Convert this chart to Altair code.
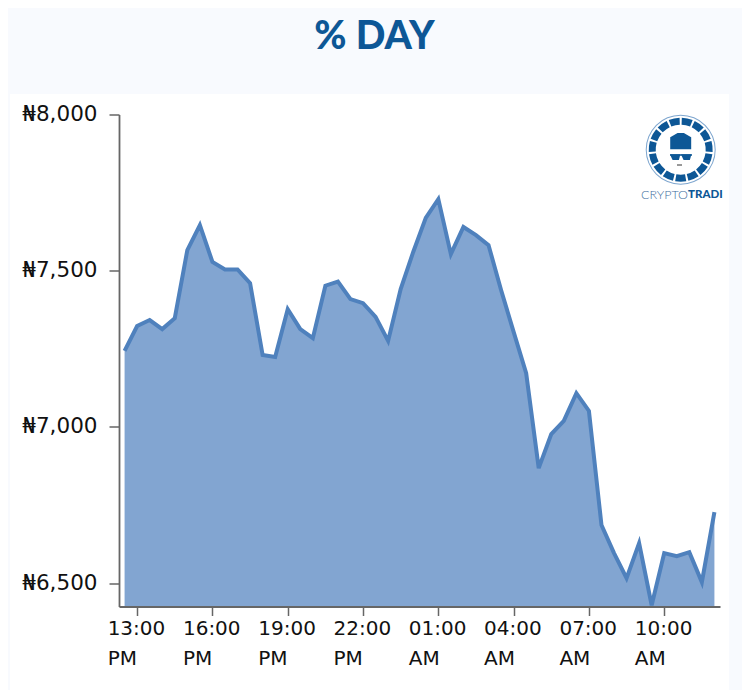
import math
import altair as alt
import pandas as pd

times = ["12:30 PM","13:00 PM","13:30 PM","14:00 PM","14:30 PM","15:00 PM","15:30 PM","16:00 PM",
         "16:30 PM","17:00 PM","17:30 PM","18:00 PM","18:30 PM","19:00 PM","19:30 PM","20:00 PM",
         "20:30 PM","21:00 PM","21:30 PM","22:00 PM","22:30 PM","23:00 PM","23:30 PM","00:00 AM",
         "00:30 AM","01:00 AM","01:30 AM","02:00 AM","02:30 AM","03:00 AM","03:30 AM","04:00 AM",
         "04:30 AM","05:00 AM","05:30 AM","06:00 AM","06:30 AM","07:00 AM","07:30 AM","08:00 AM",
         "08:30 AM","09:00 AM","09:30 AM","10:00 AM","10:30 AM","11:00 AM","11:30 AM","12:00 PM"]
prices = [7243,7323,7342,7313,7348,7566,7646,7528,7504,7504,7460,7230,7224,7377,7313,7284,
          7452,7465,7409,7396,7352,7275,7441,7560,7669,7729,7553,7640,7614,7582,7438,7304,
          7172,6868,6977,7019,7108,7051,6686,6596,6516,6628,6429,6596,6586,6599,6503,6727]
x_ticks = ["13:00 PM","16:00 PM","19:00 PM","22:00 PM","01:00 AM","04:00 AM","07:00 AM","10:00 AM"]
y_ticks = [6500,7000,7500,8000]
title_text = "% DAY"
y_floor = 6425

df = pd.DataFrame({"time": times, "price": prices, "base": [y_floor] * len(times)})

W, H = 601, 492
LEFT, TOP = 119, 114.5
AXIS_FONT = "DejaVu Sans"
DARK = "#0d5796"

def px(v): return v - LEFT
def py(v): return v - TOP
one = alt.Data(values=[{"k": 1}])

panel = alt.Chart(one).mark_rect(color="#ffffff").encode(
    x=alt.value(px(10)), x2=alt.value(px(729)),
    y=alt.value(py(94)), y2=alt.value(py(690)))

x_enc = alt.X("time:N", sort=None, title=None,
    scale=alt.Scale(type="point", domain=times, padding=0.445),
    axis=alt.Axis(values=x_ticks, labelExpr="split(datum.label, ' ')", zindex=1,
        labelAlign="left", labelOffset=-30, labelBaseline="top", labelAngle=0,
        labelPadding=3, labelLineHeight=30, labelFontSize=20, labelFont=AXIS_FONT,
        labelColor="#111111", labelBound=False, labelFlush=False, labelOverlap=False,
        tickSize=9, tickWidth=1.5, tickColor="#666666",
        domainColor="#666666", domainWidth=1.8, grid=False))
y_enc = alt.Y("price:Q", title=None,
    scale=alt.Scale(domain=[y_floor, 8000], zero=False, nice=False),
    axis=alt.Axis(values=y_ticks, labelExpr="'₦' + format(datum.value, ',')", zindex=1,
        labelPadding=12, labelFontSize=21.5, labelFont=AXIS_FONT, labelColor="#111111",
        tickSize=10, tickWidth=1.5, tickColor="#666666",
        domainColor="#666666", domainWidth=1.8, grid=False))

area = alt.Chart(df).mark_area(color="#82a5d1", opacity=1, interpolate="linear").encode(
    x=x_enc, y=y_enc, y2=alt.Y2("base:Q"))
line = alt.Chart(df).mark_line(color="#4f81bd", strokeWidth=4, strokeJoin="miter",
                               interpolate="linear").encode(x=x_enc, y=y_enc)

# logo
CX, CY = 680.7, 149.7
seg_n = 15
gap = 0.035
segs = pd.DataFrame([{"a": 2*math.pi*i/seg_n + gap, "b": 2*math.pi*(i+1)/seg_n - gap} for i in range(seg_n)])
logo_segs = alt.Chart(segs).mark_arc(color=DARK, radius=32, radius2=25).encode(
    x=alt.value(px(CX)), y=alt.value(py(CY)),
    theta=alt.Theta("a:Q", scale=None), theta2=alt.Theta2("b:Q"))
ring = alt.Chart(alt.Data(values=[{"a": 0, "b": 2*math.pi}])).mark_arc(color="#7ea6cf", radius=35, radius2=34).encode(
    x=alt.value(px(CX)), y=alt.value(py(CY)),
    theta=alt.Theta("a:Q", scale=None), theta2=alt.Theta2("b:Q"))
cap = alt.Chart(one).mark_point(filled=True, opacity=1, color=DARK, size=440,
        shape="M-1,0.75 L-1,-0.4 L-0.3,-0.8 L0.3,-0.8 L1,-0.4 L1,0.75 Z").encode(
    x=alt.value(px(CX)), y=alt.value(py(141.5)))
lens = "M-1,-0.6 L1,-0.6 L0.7,0.5 L-0.5,0.5 Z"
lens_l = alt.Chart(one).mark_point(filled=True, opacity=1, color=DARK, size=110, shape=lens).encode(
    x=alt.value(px(CX - 5.5)), y=alt.value(py(157.5)))
lens_r = alt.Chart(one).mark_point(filled=True, opacity=1, color=DARK, size=110, shape=lens).encode(
    x=alt.value(px(CX + 5.5)), y=alt.value(py(157.5)))
bar = alt.Chart(one).mark_rule(color=DARK, strokeWidth=1.5).encode(
    x=alt.value(px(670)), x2=alt.value(px(692)), y=alt.value(py(155)))
smile = alt.Chart(one).mark_rule(color="#333333", strokeWidth=1).encode(
    x=alt.value(px(677)), x2=alt.value(px(682)), y=alt.value(py(165)))
crypto = alt.Chart(one).mark_text(text="CRYPTO", align="right", baseline="middle", font="Lato",
        fontSize=12.5, fontWeight=300, color="#3d6d9e").encode(x=alt.value(px(688)), y=alt.value(py(195)))
tradi = alt.Chart(one).mark_text(text="TRADI", align="left", baseline="middle", font="Lato",
        fontSize=11.5, fontWeight=900, color=DARK).encode(x=alt.value(px(688)), y=alt.value(py(195)))

chart = alt.layer(panel, area, line, ring, logo_segs, cap, lens_l, lens_r, bar, smile, crypto, tradi).properties(
    width=W, height=H, background="#f8fafe",
    padding={"left": LEFT - 8, "top": TOP - 8, "right": 734 - (LEFT - 8) - W, "bottom": 682 - (TOP - 8) - H},
    autosize=alt.AutoSizeParams(type="none"),
    title=alt.TitleParams(title_text, anchor="middle", dx=-45, offset=37, font="Lato",
                          fontSize=39, fontWeight=900, color=DARK),
).configure_view(stroke=None)

chart.save("out.html", embed_options={"renderer": "svg", "actions": False})
